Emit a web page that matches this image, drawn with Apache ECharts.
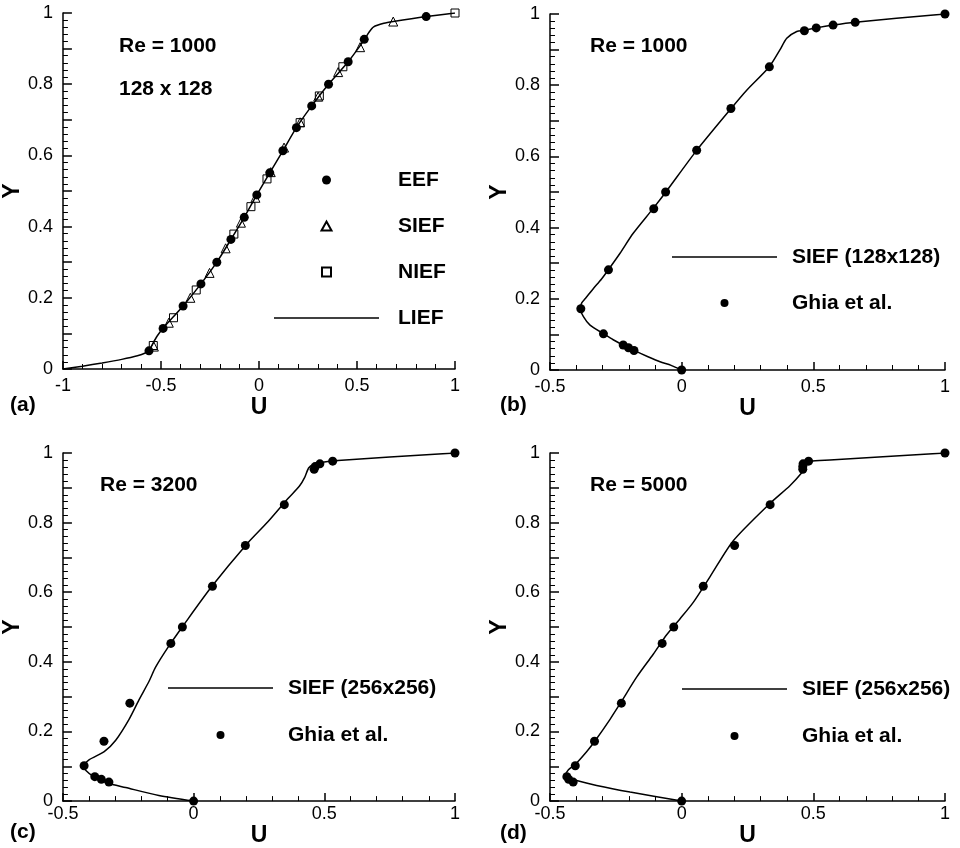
<!DOCTYPE html>
<html>
<head>
<meta charset="utf-8">
<script src="https://cdn.jsdelivr.net/npm/echarts@6/dist/echarts.min.js"></script>
<style>
html, body { margin: 0; padding: 0; background: #fff; }
#chart_main { width: 960px; height: 848px; }
</style>
</head>
<body>
<div id="chart_main"></div>
<script>
// panel (a): Re = 1000, 128 x 128, four formulations
var eefU = [-0.561, -0.489, -0.387, -0.296, -0.215, -0.143, -0.075, -0.011, 0.055, 0.122, 0.191, 0.269, 0.355, 0.455, 0.537, 0.853];
var eefY = [0.051, 0.114, 0.177, 0.239, 0.300, 0.364, 0.426, 0.489, 0.551, 0.613, 0.678, 0.739, 0.800, 0.863, 0.926, 0.990];
var siefU = [-0.536, -0.460, -0.350, -0.252, -0.170, -0.092, -0.018, 0.060, 0.128, 0.210, 0.302, 0.404, 0.516, 0.685];
var siefY = [0.063, 0.130, 0.200, 0.270, 0.339, 0.411, 0.481, 0.553, 0.622, 0.693, 0.765, 0.834, 0.904, 0.976];
var niefU = [-0.539, -0.436, -0.320, -0.128, -0.041, 0.041, 0.210, 0.308, 0.428, 1.000];
var niefY = [0.066, 0.144, 0.222, 0.379, 0.456, 0.534, 0.692, 0.767, 0.849, 1.000];
var liefU = [-1, -0.9, -0.8, -0.7, -0.62, -0.58, -0.56, -0.545, -0.52, -0.49, -0.387, -0.296, -0.215, -0.143, -0.075, -0.011, 0.055, 0.122, 0.191, 0.269, 0.355, 0.455, 0.539, 0.56, 0.585, 0.637, 0.685, 0.853, 1];
var liefY = [0, 0.008, 0.017, 0.027, 0.037, 0.045, 0.053, 0.068, 0.092, 0.114, 0.177, 0.239, 0.300, 0.364, 0.426, 0.489, 0.551, 0.613, 0.678, 0.739, 0.800, 0.863, 0.926, 0.945, 0.961, 0.971, 0.976, 0.990, 1];

// Ghia et al. reference points
var ghiaY = [0.0000, 0.0547, 0.0625, 0.0703, 0.1016, 0.1719, 0.2813, 0.4531, 0.5000, 0.6172, 0.7344, 0.8516, 0.9531, 0.9609, 0.9688, 0.9766, 1.0000];
var ghiaU1000 = [0, -0.181, -0.202, -0.222, -0.297, -0.383, -0.278, -0.106, -0.061, 0.057, 0.187, 0.333, 0.466, 0.511, 0.575, 0.659, 1];
var ghiaU3200 = [0, -0.324, -0.353, -0.378, -0.419, -0.343, -0.244, -0.087, -0.043, 0.072, 0.198, 0.347, 0.461, 0.465, 0.483, 0.532, 1];
var ghiaU5000 = [0, -0.412, -0.429, -0.436, -0.404, -0.331, -0.229, -0.074, -0.030, 0.082, 0.201, 0.336, 0.460, 0.460, 0.461, 0.482, 1];

// SIEF curves
var s1000U = [0, -0.04, -0.082, -0.13, -0.181, -0.222, -0.26, -0.297, -0.348, -0.373, -0.385, -0.38, -0.367, -0.335, -0.305, -0.279, -0.234, -0.184, -0.108, -0.06, 0.057, 0.187, 0.247, 0.333, 0.373, 0.399, 0.437, 0.466, 0.511, 0.575, 0.659, 1];
var s1000Y = [0, 0.013, 0.023, 0.038, 0.055, 0.070, 0.085, 0.102, 0.126, 0.150, 0.172, 0.188, 0.200, 0.229, 0.255, 0.281, 0.328, 0.384, 0.454, 0.500, 0.617, 0.734, 0.786, 0.852, 0.899, 0.932, 0.951, 0.954, 0.961, 0.969, 0.977, 1];
var s3200U = [0, -0.133, -0.26, -0.33, -0.386, -0.411, -0.42, -0.418, -0.399, -0.342, -0.298, -0.247, -0.209, -0.17, -0.146, -0.095, -0.038, 0.07, 0.203, 0.285, 0.361, 0.405, 0.425, 0.44, 0.458, 0.487, 0.538, 1];
var s3200Y = [0, 0.016, 0.039, 0.052, 0.072, 0.087, 0.098, 0.105, 0.119, 0.142, 0.175, 0.235, 0.291, 0.345, 0.384, 0.445, 0.506, 0.617, 0.738, 0.803, 0.869, 0.905, 0.930, 0.957, 0.967, 0.973, 0.978, 1];
var s5000U = [0, -0.196, -0.323, -0.399, -0.43, -0.44, -0.43, -0.405, -0.361, -0.33, -0.272, -0.228, -0.171, -0.108, -0.057, -0.006, 0.044, 0.108, 0.196, 0.335, 0.411, 0.456, 0.475, 0.487, 0.563, 1];
var s5000Y = [0, 0.026, 0.045, 0.059, 0.067, 0.075, 0.090, 0.105, 0.142, 0.172, 0.235, 0.287, 0.356, 0.422, 0.478, 0.524, 0.571, 0.645, 0.748, 0.855, 0.906, 0.943, 0.965, 0.976, 0.980, 1];

var FONT = '"Liberation Sans", Arial, Helvetica, sans-serif';
// legend icons (paths keep their aspect inside the wide icon box)
var LINE_ICON = 'path://M0,0 L105,0 L105,1.5 L0,1.5 Z';
var TRI_ICON = 'path://M0,9 L5,0 L10,9 Z';
var SQUARE_ICON = 'path://M0,0 L8,0 L8,8 L0,8 Z';

function zip(u, y) {
    return u.map(function (v, i) { return [v, y[i]]; });
}

function xAxis(idx, min, nameGap, labelMargin) {
    return {
        gridIndex: idx, type: 'value', min: min, max: 1, interval: 0.5,
        name: 'U', nameLocation: 'middle', nameGap: nameGap,
        nameTextStyle: { fontFamily: FONT, fontSize: 23, fontWeight: 'bold', color: '#000' },
        axisLine: { onZero: false, lineStyle: { color: '#000', width: 1.5 } },
        axisTick: { inside: true, length: 8, lineStyle: { color: '#000', width: 1.5 } },
        minorTick: { show: true, splitNumber: 5, length: 5, lineStyle: { color: '#000', width: 1 } },
        splitLine: { show: false },
        axisLabel: { margin: labelMargin, fontFamily: FONT, fontSize: 18, color: '#000' }
    };
}

function yAxis(idx) {
    return {
        gridIndex: idx, type: 'value', min: 0, max: 1, interval: 0.1,
        name: 'Y', nameLocation: 'middle', nameGap: 26,
        nameTextStyle: { fontFamily: FONT, fontSize: 23, fontWeight: 'bold', color: '#000' },
        axisLine: { onZero: false, lineStyle: { color: '#000', width: 1.5 } },
        axisTick: { inside: true, length: 9, lineStyle: { color: '#000', width: 1.5 } },
        minorTick: { show: true, splitNumber: 5, length: 5, lineStyle: { color: '#000', width: 1 } },
        splitLine: { show: false },
        axisLabel: {
            margin: 10, fontFamily: FONT, fontSize: 18, color: '#000',
            formatter: function (v) {
                var k = Math.round(v * 10);
                return k % 2 ? '' : String(k / 10);
            }
        }
    };
}

function curve(name, idx, data) {
    return {
        name: name, type: 'line', xAxisIndex: idx, yAxisIndex: idx, data: data,
        symbol: 'none', smooth: 0.25, lineStyle: { color: '#000', width: 1.5 },
        itemStyle: { color: '#000' }, z: 2
    };
}

function dots(name, idx, data, symbol, size, hollow) {
    return {
        name: name, type: 'scatter', xAxisIndex: idx, yAxisIndex: idx, data: data,
        symbol: symbol, symbolSize: size,
        itemStyle: hollow
            ? { color: 'rgba(255,255,255,0)', borderColor: '#000', borderWidth: 1, opacity: 1 }
            : { color: '#000', opacity: 1 },
        z: 3
    };
}

function legend(left, top, gap, names, iconH, textPad) {
    return {
        left: left, top: top, orient: 'vertical', padding: 0,
        itemWidth: 105, itemHeight: iconH, itemGap: gap, selectedMode: false,
        symbolKeepAspect: true,
        data: names,
        textStyle: { fontFamily: FONT, fontSize: 21, fontWeight: 'bold', color: '#000', lineHeight: 22, padding: [0, 0, 0, textPad] }
    };
}

function label(x, y, text) {
    return { type: 'text', x: x, y: y, style: { text: text, font: 'bold 21px ' + FONT, fill: '#000', verticalAlign: 'middle' } };
}

var myChart = echarts.init(document.getElementById('chart_main'));
var option = {
    animation: false,
    backgroundColor: '#fff',
    grid: [
        { left: 60, top: 13, width: 395, height: 356 },
        { left: 550, top: 14, width: 395, height: 356 },
        { left: 60, top: 453, width: 395, height: 358 },
        { left: 550, top: 453, width: 395, height: 358 }
    ],
    xAxis: [xAxis(0, -1, 19, 8), xAxis(1, -0.5, 19, 8), xAxis(2, -0.5, 13, 4), xAxis(3, -0.5, 13, 4)],
    yAxis: [yAxis(0), yAxis(1), yAxis(2), yAxis(3)],
    legend: [
        legend(274, 169, 24, ['EEF', { name: 'SIEF', icon: TRI_ICON }, { name: 'NIEF', icon: SQUARE_ICON }, { name: 'LIEF', icon: LINE_ICON }], 9, 14),
        legend(672, 246, 24, [{ name: 'SIEF (128x128)', icon: LINE_ICON }, 'Ghia et al.'], 8, 10),
        legend(168, 677, 25, [{ name: 'SIEF (256x256)', icon: LINE_ICON }, 'Ghia et al.'], 8, 10),
        legend(682, 678, 25, [{ name: 'SIEF (256x256)', icon: LINE_ICON }, 'Ghia et al.'], 8, 10)
    ],
    graphic: [
        label(119, 46, 'Re = 1000'),
        label(119, 89, '128 x 128'),
        label(590, 46, 'Re = 1000'),
        label(100, 485, 'Re = 3200'),
        label(590, 485, 'Re = 5000'),
        label(10, 405, '(a)'),
        label(500, 405, '(b)'),
        label(10, 832, '(c)'),
        label(500, 833, '(d)')
    ],
    series: [
        curve('LIEF', 0, zip(liefU, liefY)),
        dots('NIEF', 0, zip(niefU, niefY), 'rect', 8, true),
        dots('SIEF', 0, zip(siefU, siefY), 'triangle', 9, true),
        dots('EEF', 0, zip(eefU, eefY), 'circle', 9, false),
        curve('SIEF (128x128)', 1, zip(s1000U, s1000Y)),
        dots('Ghia et al.', 1, zip(ghiaU1000, ghiaY), 'circle', 9, false),
        curve('SIEF (256x256)', 2, zip(s3200U, s3200Y)),
        dots('Ghia et al.', 2, zip(ghiaU3200, ghiaY), 'circle', 9, false),
        curve('SIEF (256x256)', 3, zip(s5000U, s5000Y)),
        dots('Ghia et al.', 3, zip(ghiaU5000, ghiaY), 'circle', 9, false)
    ]
};
myChart.setOption(option);
</script>
</body>
</html>
